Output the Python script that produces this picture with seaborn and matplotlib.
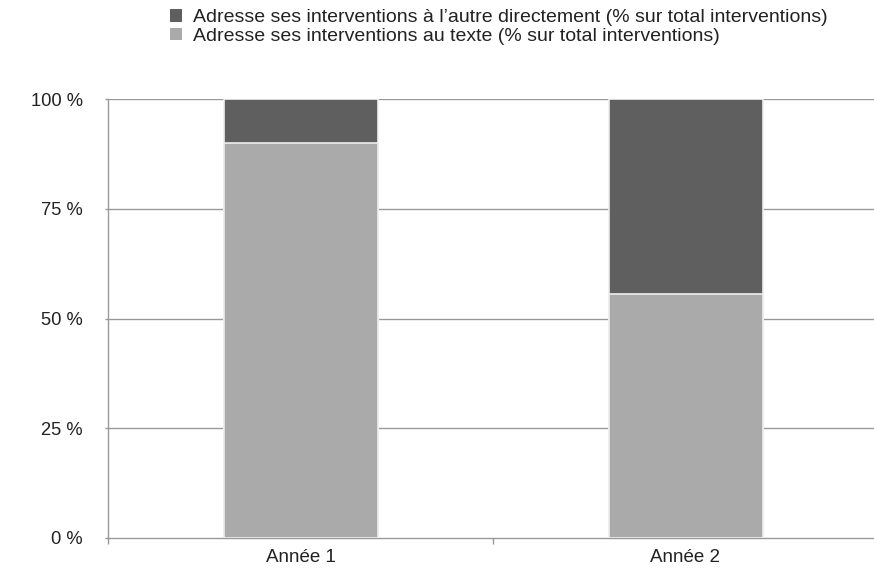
import matplotlib
matplotlib.use("Agg")
import matplotlib.pyplot as plt
import seaborn as sns
import pandas as pd
from matplotlib.patches import Patch

categories = ["Année 1", "Année 2"]
texte = [90, 55.5]          # % au texte
autre = [10, 44.5]          # % à l'autre directement
series_labels = [
    "Adresse ses interventions à l’autre directement (% sur total interventions)",
    "Adresse ses interventions au texte (% sur total interventions)",
]
ytick_vals = [0, 25, 50, 75, 100]
ytick_labels = ["0 %", "25 %", "50 %", "75 %", "100 %"]

dark = "#5f5f5f"
light = "#aaaaaa"

sns.set_theme(style="white")
plt.rcParams["font.family"] = ["Liberation Sans", "DejaVu Sans"]

df = pd.DataFrame({"cat": categories, "texte": texte,
                   "total": [t + a for t, a in zip(texte, autre)]})

fig = plt.figure(figsize=(8.74, 5.73), dpi=100)
ax = fig.add_axes([108 / 874, 1 - 538 / 573, (878 - 108) / 874, (538 - 99) / 573])

for y in ytick_vals[1:]:
    ax.axhline(y, color="#999999", lw=1, zorder=0)

sns.barplot(data=df, x="cat", y="total", color=dark, saturation=1, width=0.4,
            edgecolor="#eeeeee", linewidth=1.2, ax=ax, zorder=2)
sns.barplot(data=df, x="cat", y="texte", color=light, saturation=1, width=0.4,
            edgecolor="#eeeeee", linewidth=1.2, ax=ax, zorder=3)

ax.set_xlim(-0.5, 1.5)
ax.set_ylim(0, 100)
ax.set_xlabel("")
ax.set_ylabel("")
ax.set_yticks(ytick_vals)
ax.set_yticklabels(ytick_labels)
ax.set_xticks([0, 1])
ax.set_xticklabels(categories)
ax.set_xticks([-0.5, 0.5], minor=True)
ax.tick_params(axis="x", which="major", length=0, pad=8, labelsize=13.5, colors="#222222")
ax.tick_params(axis="x", which="minor", length=4, width=1, color="#999999", direction="out", bottom=True)
ax.tick_params(axis="y", which="major", length=2, width=1, color="#999999", direction="out",
               pad=16, labelsize=13.2, colors="#222222", left=True)

for s in ["top", "right"]:
    ax.spines[s].set_visible(False)
for s in ["left", "bottom"]:
    ax.spines[s].set_visible(True)
    ax.spines[s].set_color("#999999")
    ax.spines[s].set_linewidth(1)

handles = [Patch(facecolor=dark, edgecolor="none"), Patch(facecolor=light, edgecolor="none")]
fig.legend(handles, series_labels, loc="upper left", bbox_to_anchor=(170 / 874, 1 - 9 / 573),
           frameon=False, fontsize=14, handlelength=0.62, handleheight=0.62,
           handletextpad=0.57, labelspacing=0.08, borderpad=0, borderaxespad=0,
           labelcolor="#222222")

fig.savefig("out.png", dpi=100)
